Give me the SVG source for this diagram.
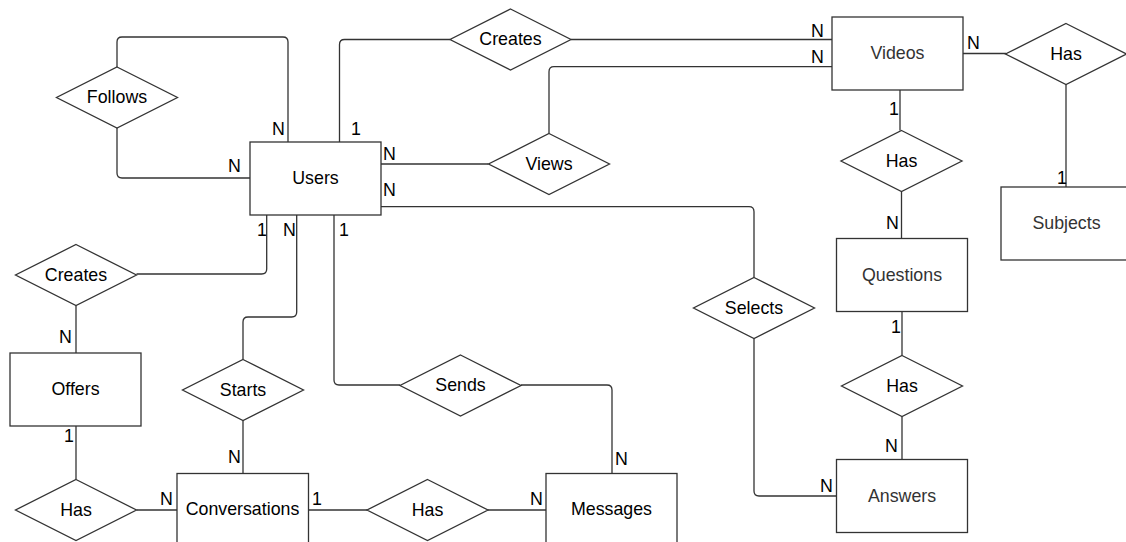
<svg xmlns="http://www.w3.org/2000/svg" width="1126" height="542" viewBox="0 0 1126 542">
<style>
.ent{fill:#fff;stroke:#333;stroke-width:1.3}
.rel{fill:#fff;stroke:#333;stroke-width:1.3}
.t{font-family:"Liberation Sans",Arial,sans-serif;font-size:17.8px;text-anchor:middle;fill:#000}
.g{fill:#333}
.c{fill:none;stroke:#333;stroke-width:1.3}
.l{font-family:"Liberation Sans",Arial,sans-serif;font-size:17.8px;fill:#000}
</style>
<rect width="1126" height="542" fill="#fff"/>
<g id="connectors">
<path class="c" d="M117,67 V42 Q117,37 122,37 H283 Q288,37 288,42 V142"/>
<path class="c" d="M117,128 V173 Q117,178 122,178 H250"/>
<path class="c" d="M339.5,142 V44.5 Q339.5,39.5 344.5,39.5 H450"/>
<path class="c" d="M571,39.5 H832"/>
<path class="c" d="M381,164 H488.5"/>
<path class="c" d="M549,133.5 V71.7 Q549,66.7 554,66.7 H832"/>
<path class="c" d="M381,206.7 H749 Q754,206.7 754,211.7 V277.5"/>
<path class="c" d="M754,338.5 V491 Q754,496 759,496 H836.5"/>
<path class="c" d="M963,53.5 H1006"/>
<path class="c" d="M1066,84.5 V187"/>
<path class="c" d="M900,90 V130.5"/>
<path class="c" d="M901.5,191.5 V238.5"/>
<path class="c" d="M902,311.5 V355.5"/>
<path class="c" d="M902,416.5 V459.5"/>
<path class="c" d="M266.7,215 V269 Q266.7,274 261.7,274 H136.5"/>
<path class="c" d="M76,305.5 V353"/>
<path class="c" d="M76,426 V479.5"/>
<path class="c" d="M136.5,510 H177"/>
<path class="c" d="M296.7,215 V312 Q296.7,317 291.7,317 H248 Q243,317 243,322 V359.5"/>
<path class="c" d="M243,420.5 V473.5"/>
<path class="c" d="M334,215 V380 Q334,385 339,385 H400"/>
<path class="c" d="M521,385 H607 Q612,385 612,390 V473.5"/>
<path class="c" d="M308.5,510 H367"/>
<path class="c" d="M488,510 H546"/>
<text class="l" x="272" y="135">N</text>
<text class="l" x="228" y="172">N</text>
<text class="l" x="351" y="135">1</text>
<text class="l" x="383" y="160">N</text>
<text class="l" x="383" y="196">N</text>
<text class="l" x="257" y="236">1</text>
<text class="l" x="283" y="236">N</text>
<text class="l" x="339" y="236">1</text>
<text class="l" x="811" y="37">N</text>
<text class="l" x="811" y="63">N</text>
<text class="l" x="967" y="49">N</text>
<text class="l" x="889" y="115">1</text>
<text class="l" x="886" y="229">N</text>
<text class="l" x="1057" y="184">1</text>
<text class="l" x="891" y="333">1</text>
<text class="l" x="885" y="452">N</text>
<text class="l" x="820" y="492">N</text>
<text class="l" x="59" y="343">N</text>
<text class="l" x="64" y="442">1</text>
<text class="l" x="160" y="505">N</text>
<text class="l" x="228" y="463">N</text>
<text class="l" x="312" y="505">1</text>
<text class="l" x="530" y="505">N</text>
<text class="l" x="615" y="465">N</text>
</g>
<g id="users"><rect class="ent" x="250" y="142" width="131" height="73"/><text class="t" x="315.5" y="184">Users</text></g>
<g id="videos"><rect class="ent" x="832" y="17" width="131" height="73"/><text class="t g" x="897.5" y="58.5">Videos</text></g>
<g id="subjects"><rect class="ent" x="1001" y="187" width="131" height="73"/><text class="t g" x="1066.5" y="228.5">Subjects</text></g>
<g id="questions"><rect class="ent" x="836.5" y="238.5" width="131" height="73"/><text class="t g" x="902" y="280.5">Questions</text></g>
<g id="answers"><rect class="ent" x="836.5" y="459.5" width="131" height="73"/><text class="t g" x="902" y="501.5">Answers</text></g>
<g id="offers"><rect class="ent" x="10" y="353" width="131" height="73"/><text class="t" x="75.5" y="395">Offers</text></g>
<g id="conversations"><rect class="ent" x="177" y="473.5" width="131.5" height="73"/><text class="t" x="242.5" y="514.5">Conversations</text></g>
<g id="messages"><rect class="ent" x="546" y="473.5" width="131" height="73"/><text class="t" x="611.5" y="514.5">Messages</text></g>
<g id="follows"><polygon class="rel" points="117,67 177.5,97.5 117,128 56.5,97.5"/><text class="t" x="117" y="103">Follows</text></g>
<g id="creates-videos"><polygon class="rel" points="510.5,9 571,39.5 510.5,70 450,39.5"/><text class="t" x="510.5" y="45">Creates</text></g>
<g id="views"><polygon class="rel" points="549,133.5 609.5,164 549,194.5 488.5,164"/><text class="t" x="549" y="169.5">Views</text></g>
<g id="has-subjects"><polygon class="rel" points="1066,23.5 1126.5,54 1066,84.5 1005.5,54"/><text class="t" x="1066" y="59.5">Has</text></g>
<g id="has-questions"><polygon class="rel" points="901.5,130.5 962,161 901.5,191.5 841,161"/><text class="t" x="901.5" y="166.5">Has</text></g>
<g id="has-answers"><polygon class="rel" points="902,355.5 962.5,386 902,416.5 841.5,386"/><text class="t" x="902" y="391.5">Has</text></g>
<g id="selects"><polygon class="rel" points="754,277.5 814.5,308 754,338.5 693.5,308"/><text class="t" x="754" y="313.5">Selects</text></g>
<g id="creates-offers"><polygon class="rel" points="76,244.5 136.5,275 76,305.5 15.5,275"/><text class="t" x="76" y="280.5">Creates</text></g>
<g id="starts"><polygon class="rel" points="243,359.5 303.5,390 243,420.5 182.5,390"/><text class="t" x="243" y="395.5">Starts</text></g>
<g id="sends"><polygon class="rel" points="460.5,355 521,385.5 460.5,416 400,385.5"/><text class="t" x="460.5" y="391">Sends</text></g>
<g id="has-offers-conv"><polygon class="rel" points="76,479.5 136.5,510 76,540.5 15.5,510"/><text class="t" x="76" y="515.5">Has</text></g>
<g id="has-conv-msg"><polygon class="rel" points="427.5,479.5 488,510 427.5,540.5 367,510"/><text class="t" x="427.5" y="515.5">Has</text></g>
</svg>
